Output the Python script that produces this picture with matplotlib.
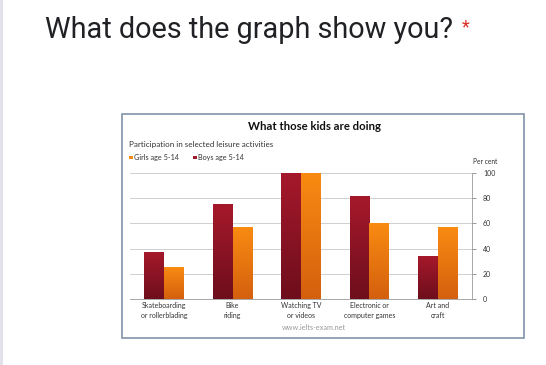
import numpy as np
import matplotlib
matplotlib.use("Agg")
import matplotlib.pyplot as plt
from matplotlib.colors import LinearSegmentedColormap
from matplotlib.patches import Rectangle

# data (per cent)
categories = ["Skateboarding\nor rollerblading", "Bike\nriding", "Watching TV\nor videos",
              "Electronic or\ncomputer games", "Art and\ncraft"]
boys = [37, 75, 100, 81, 34]
girls = [25, 57, 100, 60, 57]
yticks = [0, 20, 40, 60, 80, 100]

W, H = 546, 365


def fx(px):
    return px / W


def fy(py):
    return 1 - py / H


# -------------------------------------------------------------------- #
def gradient_bars(ax, xs, heights, width, cmap):
    grad = np.linspace(0, 1, 64).reshape(-1, 1)
    for x, h in zip(xs, heights):
        ax.imshow(grad, cmap=cmap, aspect="auto", origin="lower",
                  extent=(x - width / 2, x + width / 2, 0, h), zorder=3)


def main():
    fig = plt.figure(figsize=(W / 100, H / 100), dpi=100)
    fig.patch.set_facecolor("white")

    # page header
    fig.text(fx(45), fy(30), "What does the graph show you?", fontsize=20.8,
             family="Roboto", color="#202124", va="center", ha="left")
    fig.text(fx(462), fy(27), "*", fontsize=13, family="Roboto",
             color="#d93025", va="center", ha="left")
    fig.add_artist(Rectangle((0, 0), fx(3), 1, transform=fig.transFigure,
                             facecolor="#e3e1ea", edgecolor="none", zorder=-2))

    # chart frame
    fig.add_artist(Rectangle((fx(122), fy(338)), fx(524 - 122), fy(114) - fy(338),
                             transform=fig.transFigure, facecolor="white",
                             edgecolor="#8a9bb0", linewidth=1.3, zorder=-1))

    fnt = "Lato"
    fig.text(fx(315), fy(127), "What those kids are doing", fontsize=8.2,
             fontweight="bold", family=fnt, ha="center", va="center", color="#111111")
    fig.text(fx(129), fy(145), "Participation in selected leisure activities",
             fontsize=5.8, family=fnt, ha="left", va="center", color="#333333")
    fig.add_artist(Rectangle((fx(129), fy(159.5)), fx(4), fy(155.5) - fy(159.5),
                             transform=fig.transFigure, facecolor="#f08a10", edgecolor="none"))
    fig.text(fx(134), fy(157.5), "Girls age 5-14", fontsize=5.2, family=fnt,
             ha="left", va="center", color="#333333")
    fig.add_artist(Rectangle((fx(193), fy(159.5)), fx(4), fy(155.5) - fy(159.5),
                             transform=fig.transFigure, facecolor="#a0182a", edgecolor="none"))
    fig.text(fx(198), fy(157.5), "Boys age 5-14", fontsize=5.2, family=fnt,
             ha="left", va="center", color="#333333")
    fig.text(fx(485), fy(162), "Per cent", fontsize=4.8, family=fnt,
             ha="center", va="center", color="#333333")
    fig.text(fx(314), fy(328), "www.ielts-exam.net", fontsize=5.2, family=fnt,
             ha="center", va="center", color="#9a9a9a")

    ax = fig.add_axes([fx(130), fy(299), fx(472 - 130), fy(173) - fy(299)])
    ax.set_facecolor("none")

    x = np.arange(len(categories))
    bw = 0.29
    boys_cmap = LinearSegmentedColormap.from_list("boys", ["#6e0e1c", "#a5192b"])
    girls_cmap = LinearSegmentedColormap.from_list("girls", ["#d4600e", "#f98b12"])
    gradient_bars(ax, x - bw / 2, boys, bw, boys_cmap)
    gradient_bars(ax, x + bw / 2, girls, bw, girls_cmap)

    ax.set_xlim(-0.5, len(categories) - 0.5)
    ax.set_ylim(0, 100)
    ax.set_yticks(yticks)
    ax.yaxis.tick_right()
    ax.tick_params(axis="y", length=3, width=0.6, color="#888888", labelsize=5,
                   labelcolor="#333333", pad=5)
    ax.set_xticks(x)
    ax.set_xticklabels(categories, fontsize=5, family=fnt, color="#333333",
                       linespacing=1.5)
    ax.tick_params(axis="x", length=0, pad=2)
    for lab in ax.get_yticklabels():
        lab.set_family(fnt)
    ax.grid(axis="y", color="#c8c8c8", linewidth=0.6, zorder=0)
    for s in ["top", "left"]:
        ax.spines[s].set_visible(False)
    ax.spines["right"].set_color("#999999")
    ax.spines["right"].set_linewidth(0.6)
    ax.spines["bottom"].set_color("#999999")
    ax.spines["bottom"].set_linewidth(0.6)

    fig.savefig("out.png", dpi=100)


if __name__ == "__main__":
    main()
